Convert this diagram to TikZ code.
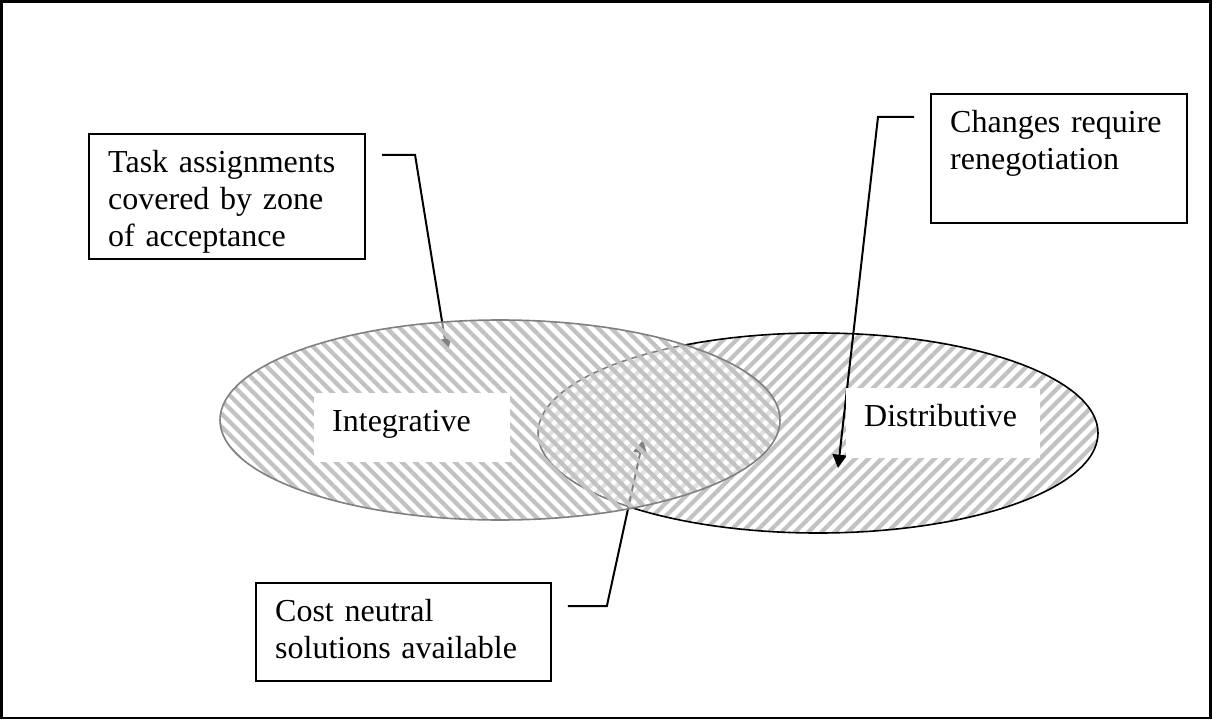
\documentclass[tikz,border=0pt]{standalone}
\usepackage{fontspec}
\setmainfont{Liberation Serif}
\usetikzlibrary{arrows.meta,patterns.meta}
\hyphenpenalty=10000

\begin{document}
\begin{tikzpicture}[x=0.375pt,y=-0.375pt,
	callout/.style={draw,line width=0.75pt,anchor=north west,align=left,
		inner xsep=7.2pt,inner ysep=3.75pt,text height=10.7pt,
		font=\fontsize{12pt}{13.8pt}\selectfont},
	tag/.style={fill=white,anchor=north west,align=left,
		inner xsep=7pt,inner ysep=3.75pt,text height=10.7pt,
		font=\fontsize{12pt}{13.8pt}\selectfont},
	pointer/.style={line width=0.75pt,-{Triangle[length=5pt,width=5.2pt]}},
	stripes/.style={pattern={Lines[angle=#1,distance=3.5pt,line width=1.6pt]},
		pattern color=gray!48},
	rim/.style={line width=0.6pt}]

	\useasboundingbox (0,0) rectangle (1212,720);
	\draw[line width=0.8pt] (1.5,1.5) rectangle (1210.5,718);

	\path[stripes=45]	(818,433) ellipse [x radius=105pt,y radius=37.5pt];
	\draw[rim]		(818,433) ellipse [x radius=105pt,y radius=37.5pt];

	\node[callout,text width=89.1pt,text depth=28.7pt]	(task)		at (88,133)	{Task assignments\\covered by zone\\of acceptance};
	\node[callout,text width=81.5pt,text depth=30pt]	(changes)	at (930,93)	{Changes require\\renegotiation};
	\node[callout,text width=96.2pt,text depth=18.55pt]	(cost)		at (255,582)	{Cost neutral\\solutions available};

	\coordinate (tasktip)		at (447,352);
	\coordinate (changestip)	at (838,468);
	\coordinate (costtip)		at (643,440);

	\draw[pointer] ([xshift=6pt,yshift=-8.25pt]task.north east) -- ++(12.4pt,0) -- (tasktip);
	\draw[pointer] ([xshift=-6pt,yshift=-9pt]changes.north west) -- ++(-13.5pt,0) -- (changestip);
	\draw[pointer] ([xshift=6pt,yshift=-9pt]cost.north east) -- ++(14.6pt,0) -- (costtip);

	\fill[white,fill opacity=0.5]	(500,420) ellipse [x radius=105pt,y radius=37.5pt];
	\path[stripes=-45]		(500,420) ellipse [x radius=105pt,y radius=37.5pt];
	\draw[rim,gray]			(500,420) ellipse [x radius=105pt,y radius=37.5pt];

	\node[tag,text width=59.5pt,text depth=7.7pt]	(integ)	at (313,392)	{Integrative};
	\node[tag,text width=59.1pt,text depth=8.05pt]	(distr)	at (845,387)	{Distributive};
\end{tikzpicture}
\end{document}
